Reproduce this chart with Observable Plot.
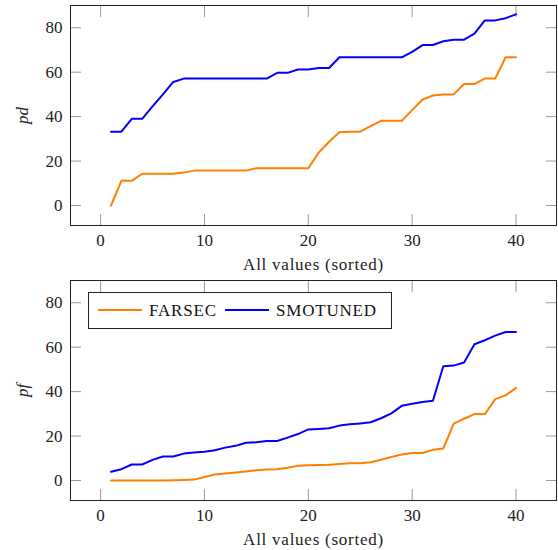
<!DOCTYPE html>
<html><head><meta charset="utf-8">
<script src="https://cdn.jsdelivr.net/npm/d3@7"></script>
<script src="https://cdn.jsdelivr.net/npm/@observablehq/plot@0.6"></script>
<style>
html,body{margin:0;padding:0;background:#fff;}
#wrap{position:relative;width:558px;height:550px;font-family:"Liberation Serif",serif;}
#wrap svg{display:block;overflow:visible;font-family:"Liberation Serif",serif !important;}
g[aria-label="y-axis label"] text{font-style:italic}
g[aria-label="x-axis label"] text{letter-spacing:0.75px}
#legend{position:absolute;left:88px;top:292px;width:304px;height:37px;box-sizing:border-box;border:1px solid #222;background:#fff;font-size:17px;color:#111;letter-spacing:0.8px}
#legend .ln{position:absolute;top:16px;height:2px;width:44px}
#legend .tx{position:absolute;top:0;height:35px;line-height:35px;white-space:nowrap}
</style>
</head><body>
<div id="wrap"></div>
<script>
const rank = [1,2,3,4,5,6,7,8,9,10,11,12,13,14,15,16,17,18,19,20,21,22,23,24,25,26,27,28,29,30,31,32,33,34,35,36,37,38,39,40];
const xTicks = [0,10,20,30,40];
const yTicks = [0,20,40,60,80];
const seriesNames = ["FARSEC","SMOTUNED"];
const seriesColors = ["#ff8000","#0000ff"];
const pdFarsec = [0,11.1,11.1,14.3,14.3,14.3,14.3,14.8,15.7,15.7,15.7,15.7,15.7,15.7,16.8,16.8,16.8,16.8,16.8,16.8,23.8,28.7,33.0,33.2,33.2,35.7,38.1,38.1,38.1,42.9,47.7,49.5,50.0,50.0,54.7,54.7,57.1,57.1,66.7,66.7];
const pdSmotuned = [33.2,33.2,39,39,44.6,50,55.6,57.1,57.1,57.1,57.1,57.1,57.1,57.1,57.1,57.1,59.7,59.7,61.2,61.2,61.9,61.9,66.7,66.7,66.7,66.7,66.7,66.7,66.7,69.1,72.2,72.2,73.9,74.6,74.6,77.3,83.3,83.3,84.3,86];
const pfFarsec = [0,0,0,0,0,0,0.1,0.2,0.4,1.6,2.7,3.1,3.6,4.0,4.6,4.9,5.1,5.7,6.6,6.9,7.0,7.1,7.4,7.8,7.8,8.2,9.3,10.6,11.7,12.4,12.4,13.8,14.4,25.6,27.8,29.9,29.9,36.6,38.3,41.7];
const pfSmotuned = [3.9,5.1,7.2,7.2,9.3,10.8,10.8,12.1,12.6,12.9,13.6,14.8,15.6,17.0,17.2,17.8,17.8,19.3,20.9,23.0,23.2,23.5,24.7,25.3,25.7,26.2,28.0,30.2,33.6,34.5,35.3,35.9,51.4,51.7,53.1,61.3,63.1,65.2,66.8,66.8];

function chart(farsec, smotuned, ylabel, mt, mb) {
  const rows = [];
  rank.forEach((r,i)=>{
    rows.push({x:r, y:farsec[i], s:seriesNames[0]});
    rows.push({x:r, y:smotuned[i], s:seriesNames[1]});
  });
  const tick = {stroke:"#999", strokeWidth:1, tickSize:-11, tickPadding:19};
  const blank = () => "";
  return Plot.plot({
    width:558, height:220+mt+mb,
    marginLeft:70, marginRight:2, marginTop:mt, marginBottom:mb,
    style:{fontFamily:"'Liberation Serif',serif", fontSize:"17px", color:"#222", background:"transparent", overflow:"visible"},
    x:{domain:[-2.9,43.9]},
    y:{domain:[-9,90]},
    color:{domain:seriesNames, range:seriesColors},
    marks:[
      Plot.axisX(xTicks,{anchor:"bottom", ...tick, label:"All values (sorted)", labelAnchor:"center", labelArrow:"none", labelOffset:44}),
      Plot.axisX(xTicks,{anchor:"top", ...tick, tickFormat:blank, label:null}),
      Plot.axisY(yTicks,{anchor:"left", ...tick, label:ylabel, labelAnchor:"center", labelArrow:"none", labelOffset:55}),
      Plot.axisY(yTicks,{anchor:"right", ...tick, tickFormat:blank, label:null}),
      Plot.line(rows,{x:"x", y:"y", z:"s", stroke:"s", strokeWidth:2, strokeLinejoin:"round"}),
      Plot.frame({stroke:"#222", strokeWidth:1})
    ]
  });
}
const wrap = document.getElementById("wrap");
wrap.appendChild(chart(pdFarsec, pdSmotuned, "pd", 5, 45));
wrap.appendChild(chart(pfFarsec, pfSmotuned, "pf", 10, 50));
const lg = document.createElement("div");
lg.id = "legend";
lg.innerHTML =
  `<div class="ln" style="left:9px;background:${seriesColors[0]}"></div>`+
  `<div class="tx" style="left:60px">${seriesNames[0]}</div>`+
  `<div class="ln" style="left:136px;background:${seriesColors[1]}"></div>`+
  `<div class="tx" style="left:187px">${seriesNames[1]}</div>`;
wrap.appendChild(lg);
</script>
</body></html>
